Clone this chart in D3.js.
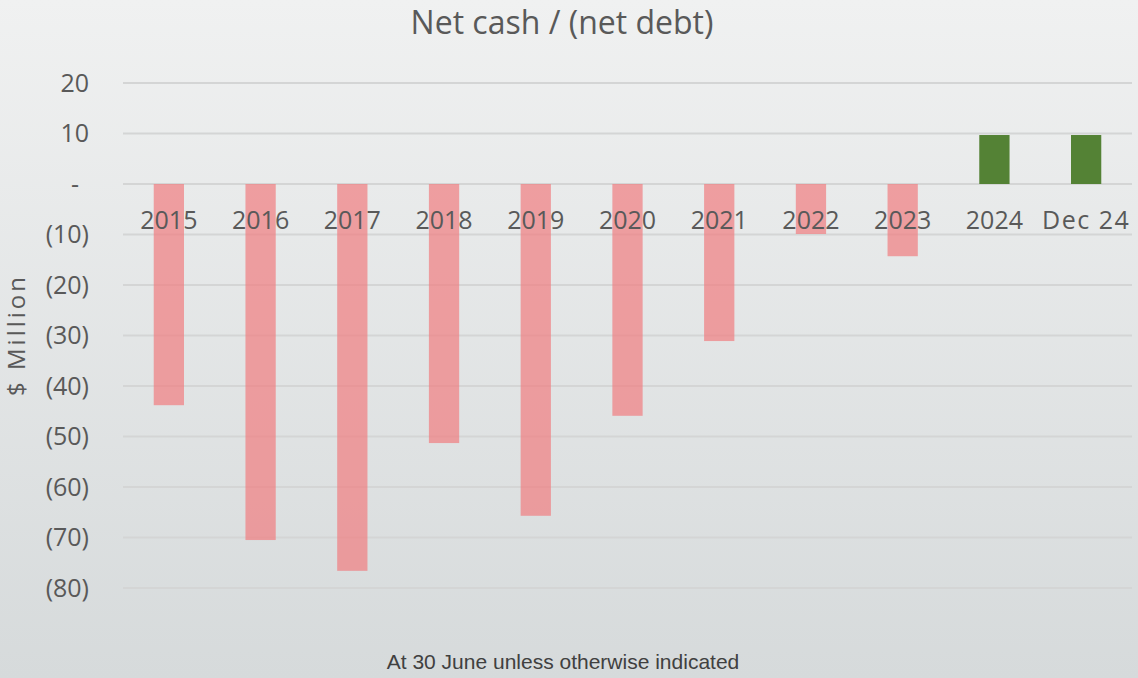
<!DOCTYPE html>
<html>
<head>
<script src="https://d3js.org/d3.v7.min.js"></script>
<style>
  body { margin: 0; }
  text { font-family: 'Open Sans', sans-serif; fill: #595959; }
</style>
</head>
<body>
<script>
var categories = ["2015", "2016", "2017", "2018", "2019", "2020", "2021", "2022", "2023", "2024", "Dec 24"];
var netCash = [-43.8, -70.5, -76.6, -51.3, -65.7, -45.9, -31.1, -9.9, -14.3, 9.7, 9.7];
var yTicks = [20, 10, 0, -10, -20, -30, -40, -50, -60, -70, -80];

var W = 1138, H = 678;
var margin = { top: 83, right: 6, bottom: 90, left: 123 };

var svg = d3.select("body").append("svg").attr("width", W).attr("height", H);

var grad = svg.append("defs").append("linearGradient")
    .attr("id", "bg").attr("x1", 0).attr("y1", 0).attr("x2", 0).attr("y2", 1);
grad.append("stop").attr("offset", "0%").attr("stop-color", "#f0f1f1");
grad.append("stop").attr("offset", "100%").attr("stop-color", "#d6dadb");
svg.append("rect").attr("width", W).attr("height", H).attr("fill", "url(#bg)");

var x = d3.scaleBand().domain(categories)
    .range([margin.left, W - margin.right]).paddingInner(0.67).paddingOuter(0.335);
var y = d3.scaleLinear().domain([-80, 20]).range([588, 83]);

// gridlines
svg.append("g").selectAll("line").data(yTicks).enter().append("line")
    .attr("x1", margin.left).attr("x2", W - margin.right)
    .attr("y1", d => y(d)).attr("y2", d => y(d))
    .attr("stroke", "#d4d5d5").attr("stroke-width", 2);

// y axis labels
var yAxis = d3.axisLeft(y).tickValues(yTicks).tickSize(0).tickPadding(0)
    .tickFormat(d => d === 0 ? "-" : d < 0 ? "(" + (-d) + ")" : d);
var ya = svg.append("g").attr("transform", "translate(89,0)").call(yAxis);
ya.select(".domain").remove();
ya.selectAll("text").style("font-size", "25px").attr("fill", "#595959")
    .style("font-family", "'Open Sans', sans-serif")
    .attr("dx", d => d === 0 ? -10 : 0);

// bars
svg.append("g").selectAll("rect").data(netCash).enter().append("rect")
    .attr("x", (d, i) => x(categories[i]))
    .attr("width", x.bandwidth())
    .attr("y", d => y(Math.max(0, d)))
    .attr("height", d => Math.abs(y(d) - y(0)))
    .attr("fill", d => d < 0 ? "rgba(240,128,130,0.72)" : "#548235");

// category labels
var xAxis = d3.axisBottom(x).tickSize(0).tickPadding(0);
var xa = svg.append("g").attr("transform", "translate(0," + (y(0) + 45) + ")").call(xAxis);
xa.select(".domain").remove();
xa.selectAll("text").style("font-size", "25px").attr("fill", "#595959")
    .style("font-family", "'Open Sans', sans-serif")
    .attr("dy", 0)
    .style("letter-spacing", d => d === "Dec 24" ? "1.5px" : "0px");

// title
svg.append("text").attr("x", 562).attr("y", 34).attr("text-anchor", "middle")
    .style("font-size", "32px").text("Net cash / (net debt)");

// y axis title
svg.append("text").attr("transform", "translate(25,335) rotate(-90)")
    .attr("text-anchor", "middle").style("font-size", "24px").style("letter-spacing", "3px")
    .text("$ Million");

// footnote
svg.append("text").attr("x", 563).attr("y", 669).attr("text-anchor", "middle")
    .style("font-family", "'Liberation Sans', Arial, sans-serif").style("font-size", "21px")
    .style("fill", "#404040")
    .text("At 30 June unless otherwise indicated");
</script>
</body>
</html>
